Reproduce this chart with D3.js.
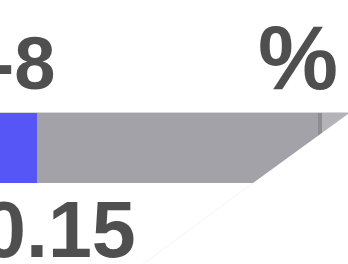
<!DOCTYPE html>
<html><head><meta charset="UTF-8">
<script src="https://d3js.org/d3.v7.min.js"></script>
<style>
  body { margin: 0; background: #fff; }
  svg text { font-family: "Liberation Sans", Arial, sans-serif; font-weight: bold; fill: #4f4f4f; }
</style>
</head>
<body>
<div id="body"></div>
<script>

var w = 348,
    h = 264;

// bar segments (share of the full bar, in %)
var segments = ["filled", "rest", "edge", "tail"];
var values = [14.25, 70.25, 1, 14.5];
var colors = ["#5655f6", "#a3a2a8", "#8e8d93", "#b4b3b8"];

// labels around the bar
var label_text = ["-8", "%", "0.15"];

var svg = d3.select("#body").append("svg")
    .attr("width", w)
    .attr("height", h);

var x = d3.scaleLinear().domain([0, 100]).range([-20, 380]);
var y = d3.scaleBand().domain(["bar"]).range([113, 183]);

var acc = 0;
var stack = values.map(function(v, i) {
    var d = {name: segments[i], x0: acc, x1: acc + v, color: colors[i]};
    acc += v;
    return d;
});

svg.append("line")
    .attr("x1", 0).attr("x2", w)
    .attr("y1", y("bar") - 0.5).attr("y2", y("bar") - 0.5)
    .style("stroke", "#d8d8dc");

svg.selectAll("rect.seg")
    .data(stack)
    .enter().append("rect")
    .attr("class", "seg")
    .attr("x", function(d) { return x(d.x0); })
    .attr("y", y("bar"))
    .attr("width", function(d) { return x(d.x1) - x(d.x0); })
    .attr("height", y.bandwidth())
    .style("fill", function(d) { return d.color; });

// white cut at lower right
svg.append("path")
    .attr("d", "M" + w + "," + (y("bar") + 1) + " L" + 253 + "," + (y("bar") + y.bandwidth()) + " L" + 120 + "," + h + " L" + w + "," + h + " Z")
    .style("fill", "#fff");
svg.append("line")
    .attr("x1", 253).attr("y1", y("bar") + y.bandwidth())
    .attr("x2", 143).attr("y2", 264)
    .style("stroke", "#ececec")
    .style("stroke-width", 0.6);

svg.append("text")
    .attr("x", -10.5).attr("y", 89)
    .style("font-size", "74px")
    .text(label_text[0]);

svg.append("text")
    .attr("x", 258).attr("y", 89)
    .style("font-size", "90px")
    .text(label_text[1]);

svg.append("text")
    .attr("x", -18).attr("y", 257)
    .style("font-size", "79px")
    .text(label_text[2]);

</script>
</body></html>
